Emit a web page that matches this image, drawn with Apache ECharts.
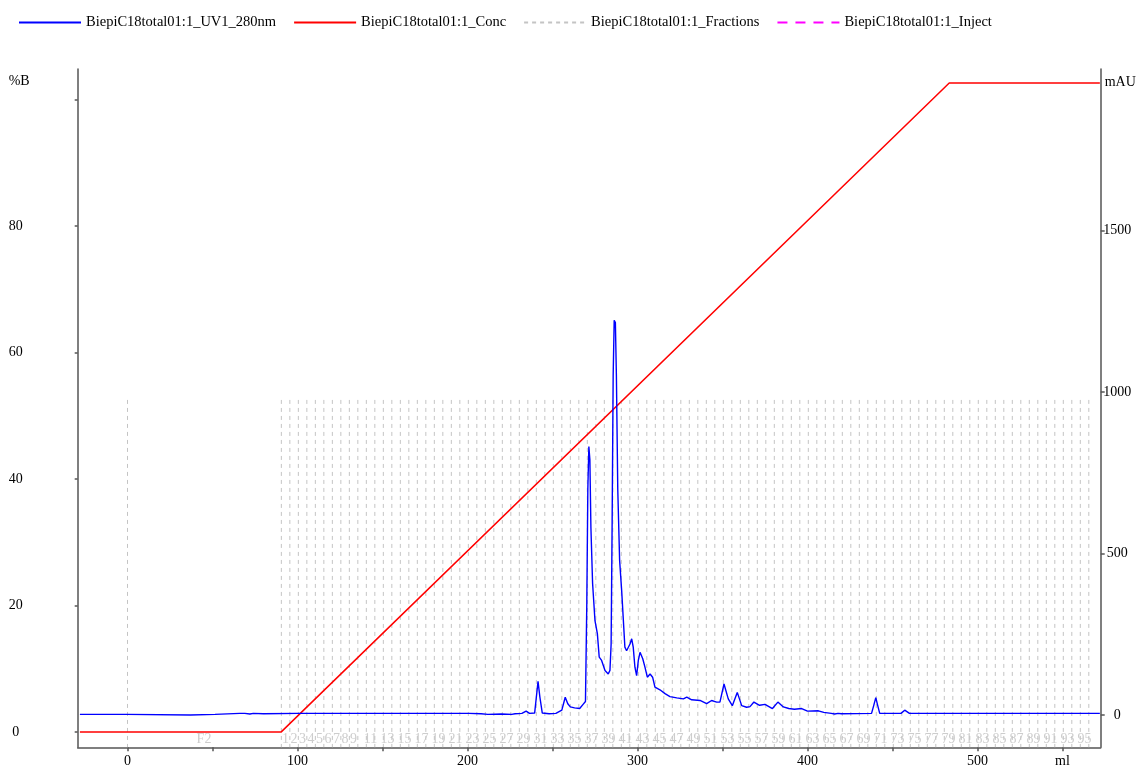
<!DOCTYPE html>
<html><head><meta charset="utf-8">
<script src="https://cdn.jsdelivr.net/npm/echarts@6/dist/echarts.min.js"></script>
<style>html,body{margin:0;padding:0;background:#fff}#c{width:1137px;height:767px}</style>
</head><body><div id="c"></div>
<script>
// ---- data (volume in ml) ----
const seriesNames = ['BiepiC18total01:1_UV1_280nm','BiepiC18total01:1_Conc','BiepiC18total01:1_Fractions','BiepiC18total01:1_Inject'];

const uvVolume = [-28,-0.5,0,37,37.5,51.5,52,66,67,69,72,74,80,81,100,150,201,202,208,212,220,226,228,232,234.5,236.5,239.5,240.5,241.5,242.6,244,248,252,255.5,257.5,259,260.5,263,266,268,269.4,270.2,270.8,271.4,272.0,272.6,273.6,275,276.4,277.5,278.9,280.9,282.8,283.8,284.5,285.1,285.7,286.3,287.0,287.6,288.4,289.5,290.7,291.6,292.6,293.6,295.6,296.6,297.5,298.5,299.5,300.5,301.5,303.1,304.4,305.8,307.4,308.9,310.3,313.2,316.2,319.1,323.1,327,329,331.9,336.8,340.7,343.6,346.6,348.5,350.9,353.4,355.8,358.7,361.3,364.2,366.2,368.5,371.8,375,379.4,382.6,385.8,389,392.3,396.6,400,406.4,409.6,414,416,418,420,437.7,439.0,440.2,441.3,442.5,455,457.2,460,566,567,568,572];
const uvMAU = [2,2,0,0,2,2,5,5,3,5,3,5,4,5,5,5,5,3,4,2,3,2,4,5,12,5,6,55,104,55,6,4,5,15,55,35,25,22,20,33,42,350,700,831,790,581,407,292,252,179,169,138,127,138,220,600,1050,1222,1215,1050,700,478,385,302,210,199,220,236,210,148,122,169,194,174,148,117,127,117,86,78,66,57,53,50,55,47,45,35,45,40,40,96,50,29,70,29,24,26,40,30,33,20,40,25,20,18,20,12,13,8,5,3,5,4,5,30,54,30,5,5,15,5,5,8,5,5];

const concVolume = [-28, 90.3, 483.4, 572];
const concPercent = [0, 0, 102.6, 102.6];

const fractionBoundaries = [0,90.5,95.5,100.5,105.5,110.5,115.5,120.5,125.5,130.5,135.5,140.5,145.5,150.5,155.5,160.5,165.5,170.5,175.5,180.5,185.5,190.5,195.5,200.5,205.5,210.5,215.5,220.5,225.5,230.5,235.5,240.5,245.5,250.5,255.5,260.5,265.5,270.5,275.5,280.5,285.5,290.5,295.5,300.5,305.5,310.5,315.5,320.5,325.5,330.5,335.5,340.5,345.5,350.5,355.5,360.5,365.5,370.5,375.5,380.5,385.5,390.5,395.5,400.5,405.5,410.5,415.5,420.5,425.5,430.5,435.5,440.5,445.5,450.5,455.5,460.5,465.5,470.5,475.5,480.5,485.5,490.5,495.5,500.5,505.5,510.5,515.5,520.5,525.5,530.5,535.5,540.5,545.5,550.5,555.5,560.5,565.5];
const fractionMarkTop = 52.5;   // %B scale height of the fraction marks
const fractionLabels = ['F2','1','2','3','4','5','6','7','8','9','11','13','15','17','19','21','23','25','27','29','31','33','35','37','39','41','43','45','47','49','51','53','55','57','59','61','63','65','67','69','71','73','75','77','79','81','83','85','87','89','91','93','95'];
const fractionLabelVolume = [45,93,98,103,108,113,118,123,128,133,143,153,163,173,183,193,203,213,223,233,243,253,263,273,283,293,303,313,323,333,343,353,363,373,383,393,403,413,423,433,443,453,463,473,483,493,503,513,523,533,543,553,563];
const fractionLabelLevel = -1.1;

const injectVolume = [];

const xTicks = [0,50,100,150,200,250,300,350,400,450,500,550];
const xLabels = [0,100,200,300,400,500,550];
const leftTicks = [0,20,40,60,80,100];
const leftLabels = [0,20,40,60,80];
const rightTicks = [0,500,1000,1500];
const rightLabels = [0,500,1000,1500];

// ---- build ----
const FONT = '"Liberation Serif","DejaVu Serif",serif';
const AX = {color:'#555', width:1.5};
const xMin = -29.3, xMax = 572.5, lMin = -2.4, lMax = 104.8, rMin = -100, rMax = 2000;

const uvData = uvVolume.map((v,i)=>[v, uvMAU[i]]);
const concData = concVolume.map((v,i)=>[v, concPercent[i]]);
const fracData = [];
fractionBoundaries.forEach(b=>{ fracData.push([b, fractionMarkTop]); fracData.push([b, lMin]); fracData.push([b, '-']); });
const fracLabelData = fractionLabels.map((t,i)=>({name:t, value:[fractionLabelVolume[i], fractionLabelLevel]}));
const injectData = injectVolume.map(v=>[v, 0]);

const chart = echarts.init(document.getElementById('c'), null, {renderer:'canvas'});
chart.setOption({
  animation:false,
  backgroundColor:'#fff',
  grid:{left:77.7, right:36.3, top:69, bottom:19.7, containLabel:false, outerBoundsMode:'none'},
  legend:{
    data:seriesNames, left:18, top:15, padding:0, itemWidth:62, itemHeight:14, itemGap:17,
    itemStyle:{opacity:0},
    textStyle:{fontFamily:FONT, fontSize:14.5, color:'#000'}
  },
  xAxis:{
    type:'value', min:xMin, max:xMax,
    axisLine:{show:true, onZero:false, lineStyle:AX},
    axisTick:{show:true, length:4, customValues:xTicks, lineStyle:AX},
    axisLabel:{customValues:xLabels, margin:7, fontFamily:FONT, fontSize:14, color:'#000',
      formatter:v=> v===550 ? 'ml' : String(v)},
    splitLine:{show:false}
  },
  yAxis:[{
    type:'value', position:'left', min:lMin, max:lMax,
    name:'%B', nameLocation:'end', nameGap:-12.5,
    nameTextStyle:{fontFamily:FONT, fontSize:14, color:'#000', align:'right', verticalAlign:'middle', padding:[0,48,0,0]},
    axisLine:{show:true, onZero:false, lineStyle:AX},
    axisTick:{show:true, length:3, customValues:leftTicks, lineStyle:AX},
    axisLabel:{customValues:leftLabels, margin:62, align:'center', fontFamily:FONT, fontSize:14, color:'#000',
      formatter:v=>String(v)},
    splitLine:{show:false}
  },{
    type:'value', position:'right', min:rMin, max:rMax,
    name:'mAU', nameLocation:'end', nameGap:-13,
    nameTextStyle:{fontFamily:FONT, fontSize:14, color:'#000', align:'left', verticalAlign:'middle', padding:[0,0,0,4]},
    axisLine:{show:true, onZero:false, lineStyle:AX},
    axisTick:{show:true, length:4, customValues:rightTicks, lineStyle:AX},
    axisLabel:{customValues:rightLabels, margin:16.6, align:'center', fontFamily:FONT, fontSize:14, color:'#000',
      formatter:v=>String(v)},
    splitLine:{show:false}
  }],
  series:[
    {name:seriesNames[2], type:'line', yAxisIndex:0, data:fracData, symbol:'none', connectNulls:false, silent:true, z:1,
      itemStyle:{color:'#c4c4c4'}, lineStyle:{color:'#c4c4c4', width:1, type:[4,4]}},
    {name:'fractionLabels', type:'scatter', yAxisIndex:0, data:fracLabelData, symbolSize:1, silent:true, z:1,
      itemStyle:{color:'rgba(0,0,0,0)'},
      label:{show:true, position:'inside', formatter:'{b}', fontFamily:FONT, fontSize:14, color:'#c0c0c0'}},
    {name:seriesNames[1], type:'line', yAxisIndex:0, data:concData, symbol:'none', silent:true, z:3,
      itemStyle:{color:'#ff0000'}, lineStyle:{color:'#ff0000', width:1.5}},
    {name:seriesNames[0], type:'line', yAxisIndex:1, data:uvData, symbol:'none', silent:true, z:4, sampling:null,
      itemStyle:{color:'#0000ff'}, lineStyle:{color:'#0000ff', width:1.4}},
    {name:seriesNames[3], type:'line', yAxisIndex:0, data:injectData, symbol:'none', silent:true, z:5,
      itemStyle:{color:'#ff00ff'}, lineStyle:{color:'#ff00ff', width:1.5, type:[10,8]}}
  ]
});
</script></body></html>
